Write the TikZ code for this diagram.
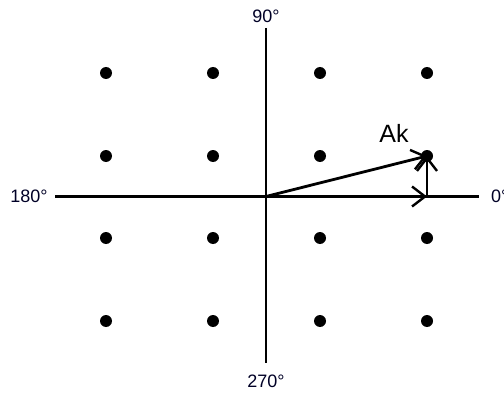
\documentclass[tikz,border=0pt]{standalone}
\usepackage{fontspec}
\setmainfont{Liberation Sans}
\usetikzlibrary{arrows.meta}
\begin{document}
\begin{tikzpicture}[x=1pt,y=-1pt,
  axis/.style={line width=2.8pt},
  vec/.style={line width=2.8pt,-{Straight Barb[length=13pt,width=20pt,line width=2.4pt]}},
  dot/.style={circle,fill=black,inner sep=0pt,minimum size=12pt},
  lbl/.style={font=\fontsize{18}{18}\selectfont,inner sep=0pt,text=black!85!blue}]
\useasboundingbox (0,0) rectangle (504,396);
% axes
\coordinate (O) at (266,196.5);
\coordinate (top) at (266,28);
\coordinate (bot) at (266,363);
\coordinate (left) at (55,196.5);
\coordinate (right) at (479,196.5);
\draw[axis] (top) -- (bot);
\draw[axis] (left) -- (right);
% labels
\node[lbl] (l90) at (266,16) {90°};
\node[lbl] (l180) at (29,196) {180°};
\node[lbl,anchor=west] (l0) at (491,196) {0°};
\node[lbl] (l270) at (266,381) {270°};
% dots
\foreach \i/\x in {1/106,2/213,3/320,4/427}{
  \foreach \j/\y in {1/73,2/156,3/238,4/321}{
    \node[dot] (d\i\j) at (\x,\y) {};
  }
}
\coordinate (E) at (427,196.5);
% vectors
\draw[vec] (O) -- (d42.center);
\draw[vec] (O) -- (E);
\draw[vec] (E) -- (d42.center);
\node[font=\fontsize{25}{25}\selectfont,inner sep=0pt] (Ak) at (394,133) {Ak};
\end{tikzpicture}
\end{document}
